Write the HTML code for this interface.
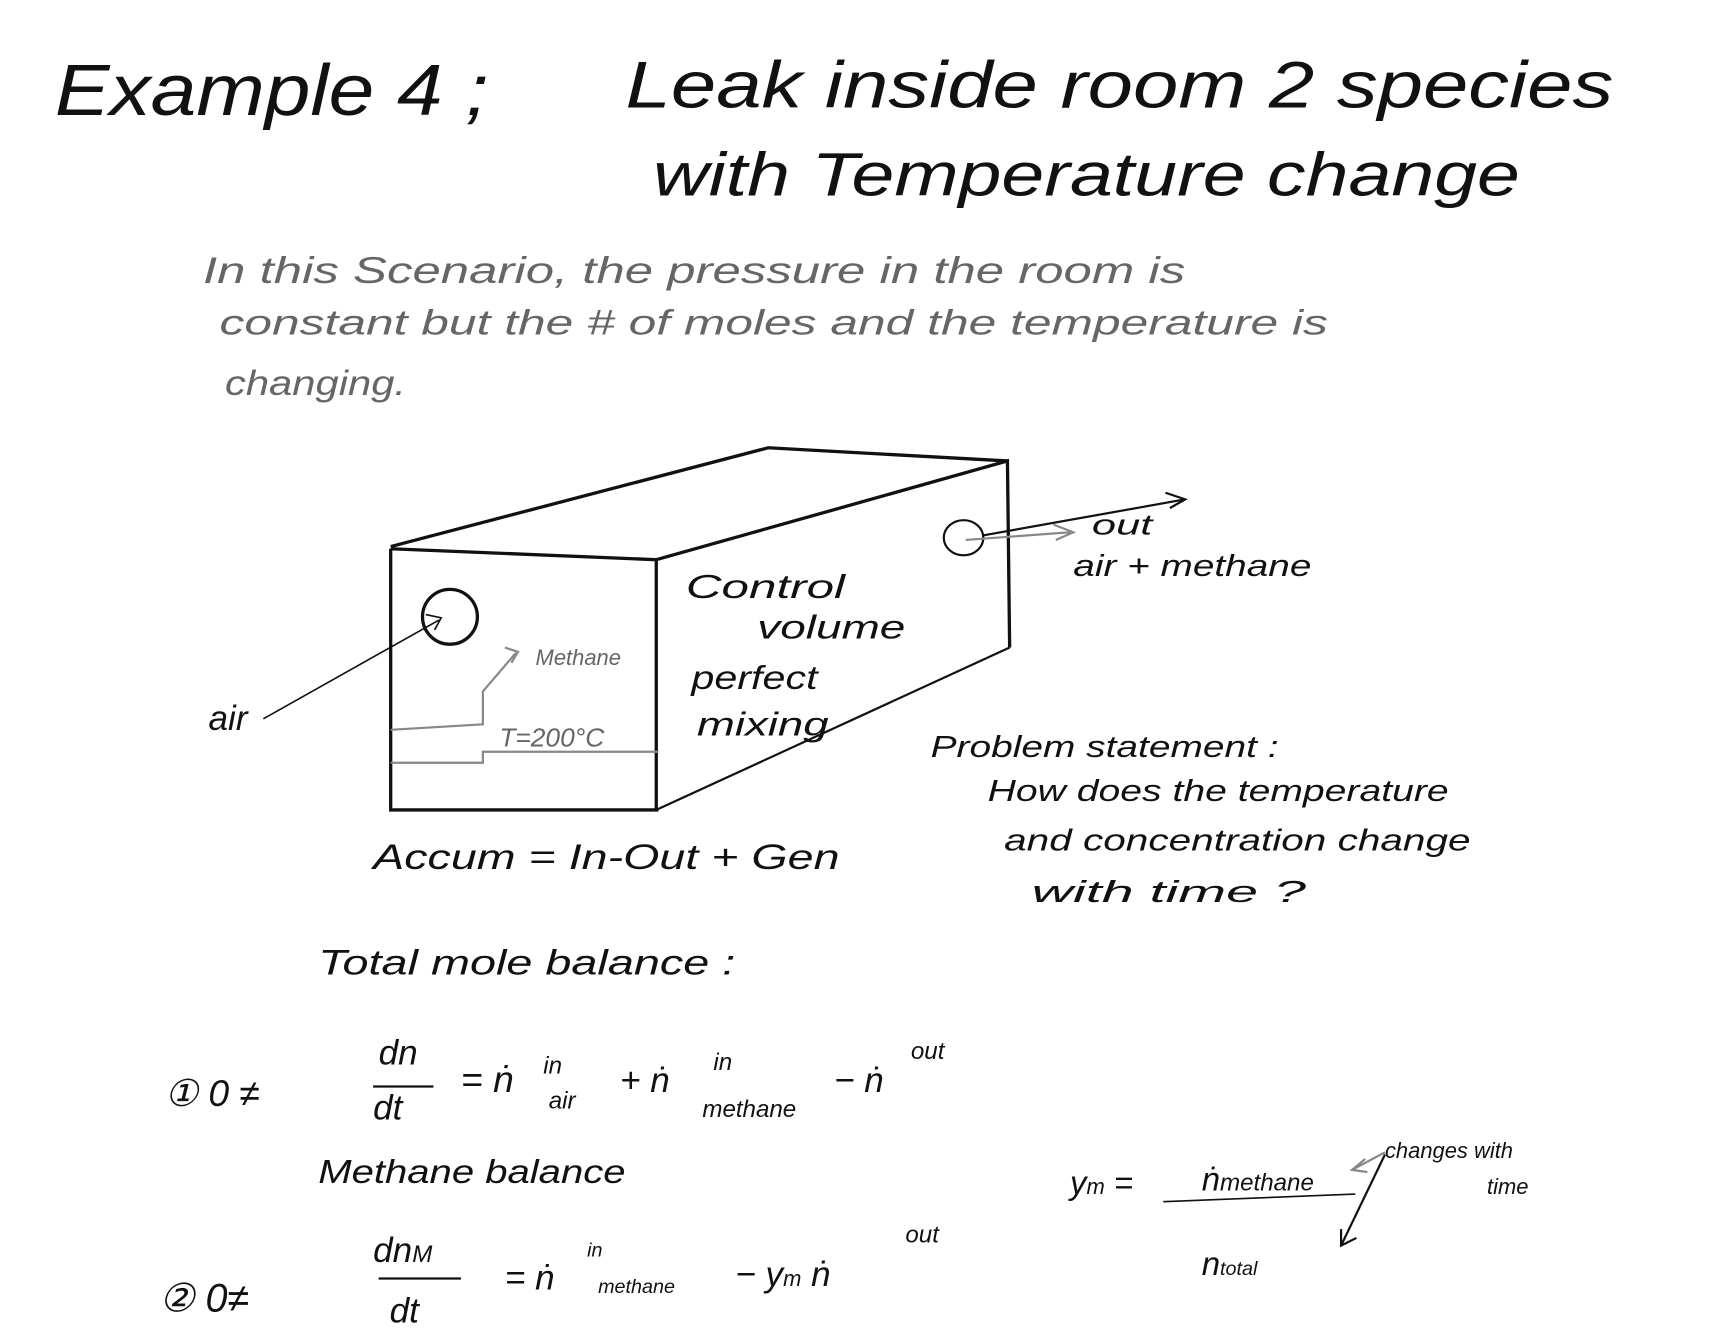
<!DOCTYPE html>
<html><head><meta charset="utf-8"><style>
html,body{margin:0;padding:0;background:#fff}
svg{display:block}
text{font-family:"Liberation Sans",sans-serif;fill:#111}
.g{fill:#666}
</style></head><body>
<svg width="1712" height="1340" viewBox="0 0 1560 1221" xmlns="http://www.w3.org/2000/svg">
<g font-style="italic">
<text x="50" y="105" font-size="66" textLength="395" lengthAdjust="spacingAndGlyphs">Example 4 ;</text>
<text x="570" y="98" font-size="60" textLength="900" lengthAdjust="spacingAndGlyphs">Leak inside room 2 species</text>
<text x="595" y="178" font-size="56" textLength="790" lengthAdjust="spacingAndGlyphs">with Temperature change</text>
<text class="g" x="185" y="258" font-size="34" textLength="895" lengthAdjust="spacingAndGlyphs">In this Scenario, the pressure in the room is</text>
<text class="g" x="200" y="305" font-size="32" textLength="1010" lengthAdjust="spacingAndGlyphs">constant but the # of moles and the temperature is</text>
<text class="g" x="205" y="360" font-size="32" textLength="165" lengthAdjust="spacingAndGlyphs">changing.</text>
<text x="625" y="545" font-size="30" textLength="145" lengthAdjust="spacingAndGlyphs">Control</text>
<text x="690" y="582" font-size="30" textLength="135" lengthAdjust="spacingAndGlyphs">volume</text>
<text x="630" y="628" font-size="30" textLength="115" lengthAdjust="spacingAndGlyphs">perfect</text>
<text x="635" y="670" font-size="30" textLength="120" lengthAdjust="spacingAndGlyphs">mixing</text>
<text x="995" y="487" font-size="26" textLength="55" lengthAdjust="spacingAndGlyphs">out</text>
<text x="978" y="525" font-size="28" textLength="217" lengthAdjust="spacingAndGlyphs">air + methane</text>
<text x="190" y="665" font-size="32">air</text>
<text class="g" x="488" y="606" font-size="20">Methane</text>
<text class="g" x="455" y="680" font-size="24">T=200°C</text>
<text x="848" y="690" font-size="28" textLength="317" lengthAdjust="spacingAndGlyphs">Problem statement :</text>
<text x="900" y="730" font-size="28" textLength="420" lengthAdjust="spacingAndGlyphs">How does the temperature</text>
<text x="915" y="775" font-size="28" textLength="425" lengthAdjust="spacingAndGlyphs">and concentration change</text>
<text x="940" y="822" font-size="28" textLength="250" lengthAdjust="spacingAndGlyphs">with time ?</text>
<text x="340" y="792" font-size="32" textLength="425" lengthAdjust="spacingAndGlyphs">Accum = In-Out + Gen</text>
<text x="290" y="888" font-size="32" textLength="380" lengthAdjust="spacingAndGlyphs">Total mole balance :</text>
<text x="150" y="1008" font-size="34">① 0 ≠</text>
<text x="345" y="970" font-size="32">dn</text>
<text x="340" y="1020" font-size="32">dt</text>
<text x="420" y="995" font-size="34">= ṅ</text>
<text x="495" y="978" font-size="22">in</text>
<text x="500" y="1010" font-size="22">air</text>
<text x="565" y="995" font-size="32">+ ṅ</text>
<text x="650" y="975" font-size="22">in</text>
<text x="640" y="1018" font-size="22">methane</text>
<text x="760" y="995" font-size="32">− ṅ</text>
<text x="830" y="965" font-size="22">out</text>
<text x="290" y="1078" font-size="30" textLength="280" lengthAdjust="spacingAndGlyphs">Methane balance</text>
<text x="145" y="1195" font-size="36">②  0≠</text>
<text x="340" y="1150" font-size="32">dn<tspan font-size="22">M</tspan></text>
<text x="355" y="1205" font-size="32">dt</text>
<text x="460" y="1175" font-size="32">= ṅ</text>
<text x="535" y="1145" font-size="18">in</text>
<text x="545" y="1178" font-size="18">methane</text>
<text x="670" y="1172" font-size="32">− y<tspan font-size="20">m</tspan> ṅ</text>
<text x="825" y="1132" font-size="22">out</text>
<text x="975" y="1088" font-size="30">y<tspan font-size="20">m</tspan> =</text>
<text x="1095" y="1085" font-size="30">ṅ<tspan font-size="22">methane</tspan></text>
<text x="1095" y="1162" font-size="30">n<tspan font-size="18">total</tspan></text>
<text x="1262" y="1055" font-size="20">changes with</text>
<text x="1355" y="1088" font-size="20">time</text>
</g>
<g fill="none" stroke="#111" stroke-width="3">
<path d="M356 500 L356 738 L600 738"/>
<path d="M356 500 L598 510 L598 738"/>
<path d="M356 498 L700 408 L918 420"/>
<path d="M598 510 L918 420 L920 590"/>
<path d="M598 738 L920 590" stroke-width="2"/>
<circle cx="410" cy="562" r="25"/>
<ellipse cx="878" cy="490" rx="18" ry="16" stroke-width="2"/>
<path d="M895 488 L1080 455 M1062 449 L1080 455 L1066 463" stroke-width="2"/>
<path d="M240 655 L400 565 M388 560 L402 563 L396 574" stroke-width="1.5"/>
<path d="M1262 1052 L1222 1135 M1222 1120 L1222 1135 L1236 1128" stroke-width="2"/>
<path d="M1060 1095 L1235 1088" stroke-width="1.5"/>
<path d="M340 990 L395 990 M345 1165 L420 1165" stroke-width="2"/>
</g>
<g fill="none" stroke="#888" stroke-width="2">
<path d="M356 665 L440 660 L440 630 L470 595 M460 590 L472 594 L466 604"/>
<path d="M356 695 L440 695 L440 685 L600 685"/>
<path d="M880 492 L975 485 M960 478 L978 485 L962 492"/>
<path d="M1262 1050 L1232 1066 M1244 1056 L1232 1066 L1246 1068"/>
</g>
</svg>
</body></html>
